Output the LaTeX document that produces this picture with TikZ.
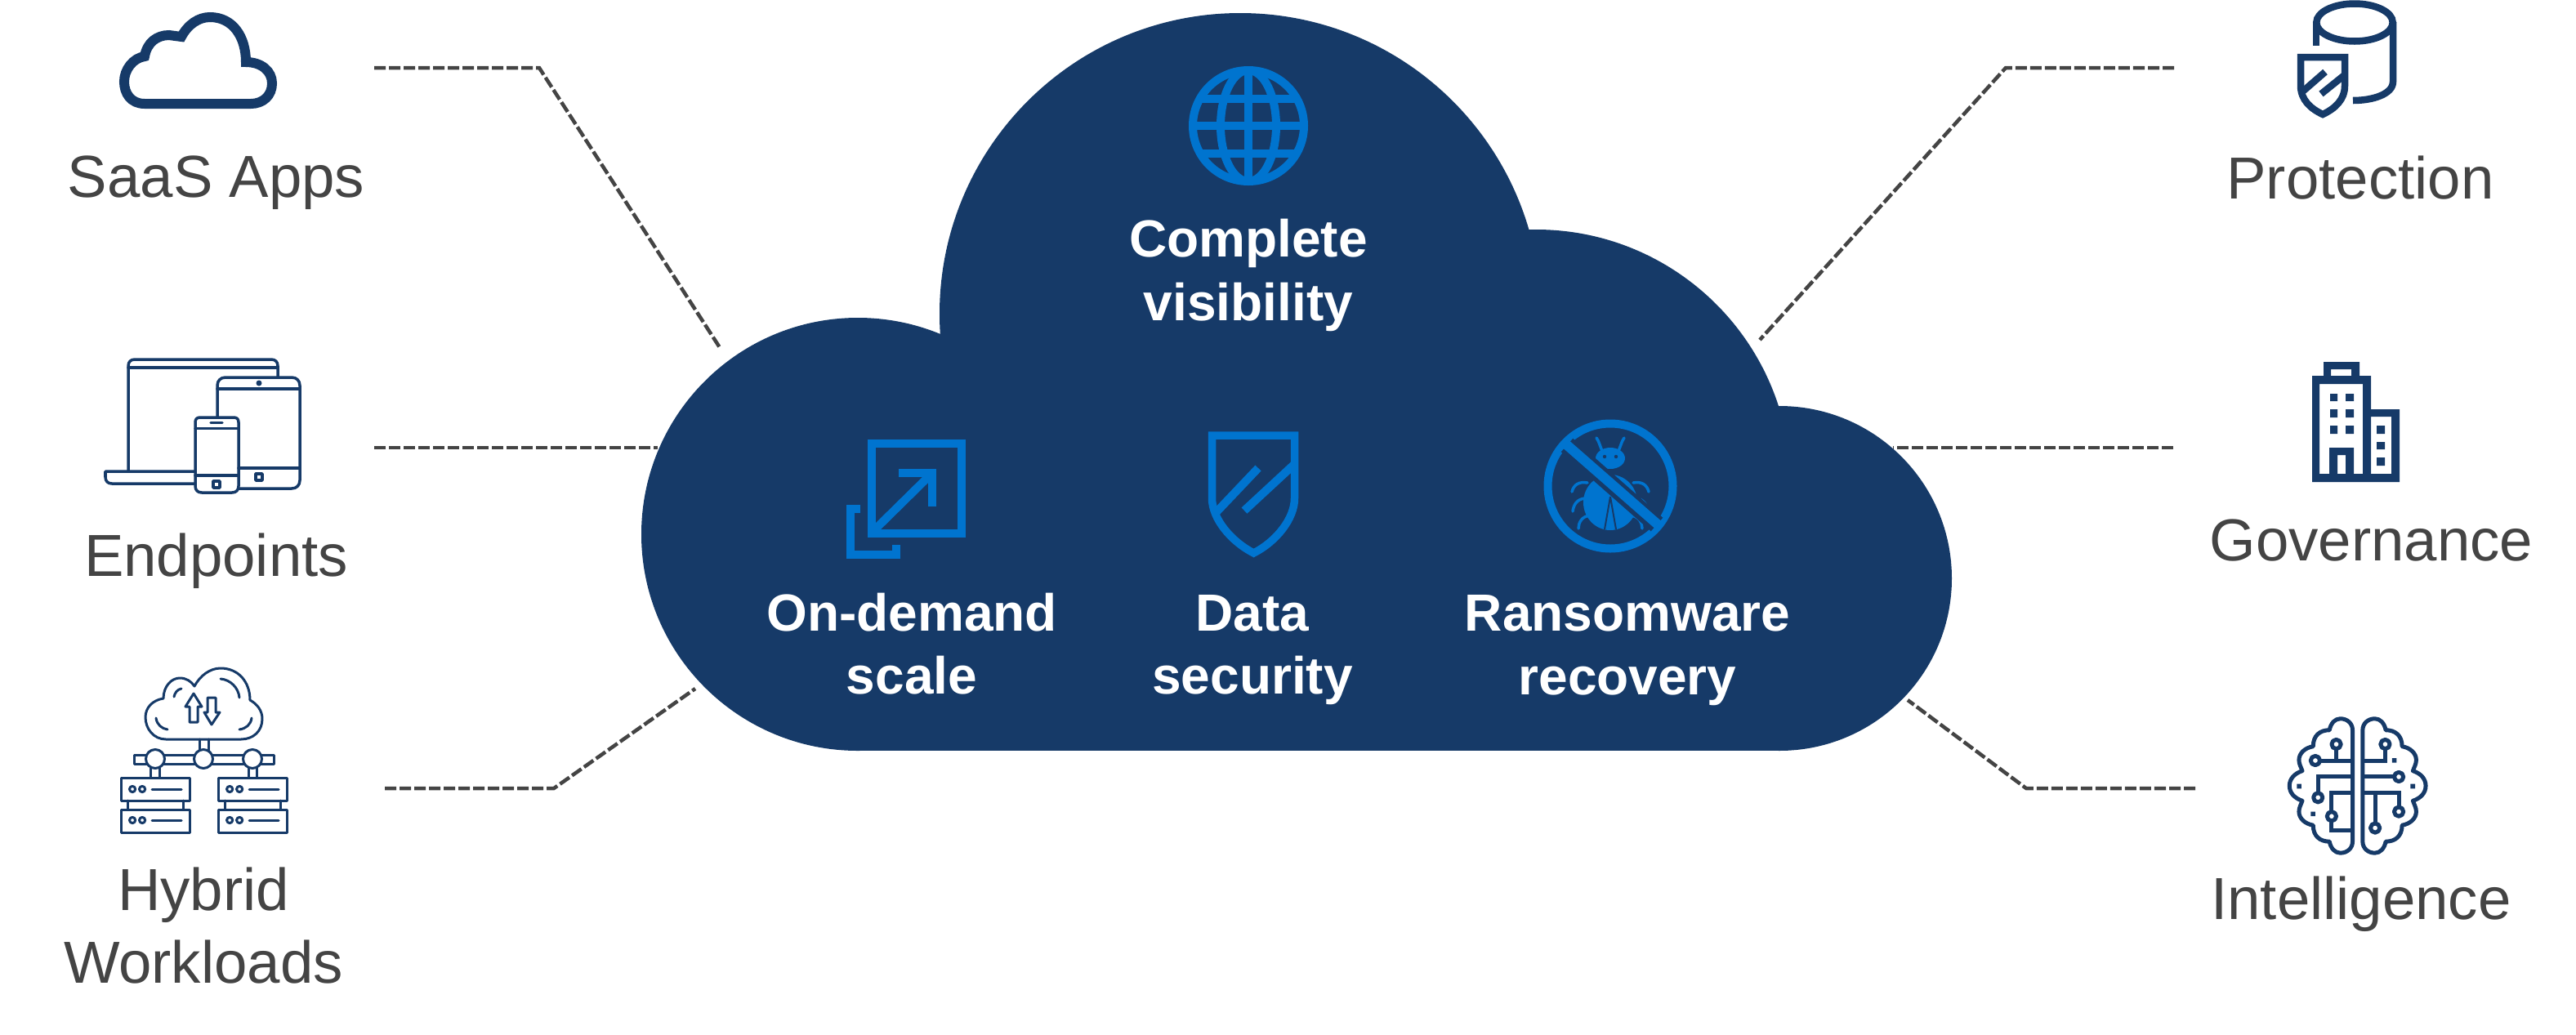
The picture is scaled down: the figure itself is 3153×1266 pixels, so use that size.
\documentclass[tikz,border=0pt]{standalone}
\usepackage{fontspec}
\setmainfont{Liberation Sans}
\definecolor{navy}{HTML}{163A68}
\definecolor{azure}{HTML}{0074CF}
\definecolor{label}{HTML}{444444}
\tikzset{
  labeltext/.style={text=label,font=\fontsize{20.65pt}{25.04pt}\selectfont,align=center,anchor=base,inner sep=0pt},
  cloudtext/.style={text=white,font=\bfseries\fontsize{18.2pt}{21.9pt}\selectfont,align=center,anchor=base,inner sep=0pt},
  linkline/.style={draw=label,line width=0.045cm,dash pattern=on 0.14cm off 0.04cm},
  azureline/.style={draw=azure,line width=0.1cm},
  thin icon/.style={draw=navy,line width=0.035cm,line join=round,line cap=round},
  hybrid icon/.style={draw=navy,line width=0.03cm,line join=round,line cap=round},
  heavy icon/.style={draw=navy,line width=0.085cm},
  brain line/.style={draw=navy,line width=0.05cm,line join=round},
}
% One hemisphere outline, in its own local units
\newcommand\brainlobe{%
  \draw[brain line] (685,160) .. controls (685,135) and (665,118) .. (640,118)
    .. controls (620,118) and (605,135) .. (600,160)
    .. controls (565,160) and (540,180) .. (540,220)
    .. controls (510,225) and (488,245) .. (488,270)
    .. controls (488,285) and (495,295) .. (500,310)
    .. controls (470,320) and (453,340) .. (453,365)
    .. controls (453,390) and (470,410) .. (500,420)
    .. controls (495,435) and (488,445) .. (488,460)
    .. controls (488,485) and (510,505) .. (540,510)
    .. controls (540,550) and (565,570) .. (600,570)
    .. controls (605,595) and (620,612) .. (640,612)
    .. controls (665,612) and (685,595) .. (685,570) -- cycle;}
% A two-unit server stack with its left edge at x = 0
\newcommand\serverstack{%
  \draw[hybrid icon] (0,952) rectangle (84,980);
  \draw[hybrid icon] (0,991) rectangle (84,1019);
  \draw[hybrid icon] (8,980) -- (8,991) (76,980) -- (76,991);
  \foreach \yy in {966,1004}{
    \draw[hybrid icon] (14,\yy) circle[radius=3.6] (26,\yy) circle[radius=3.6];
    \draw[hybrid icon] (38,\yy) -- (74,\yy);
  }}
\begin{document}
\begin{tikzpicture}[x=0.01cm,y=-0.01cm]
\useasboundingbox (0,0) rectangle (3153,1266);

% Connector end points
\coordinate (saasA) at (458,83);
\coordinate (saasB) at (660,83);
\coordinate (saasC) at (882,427);
\coordinate (endA) at (458,548);
\coordinate (endB) at (805,548);
\coordinate (hybA) at (471,965);
\coordinate (hybB) at (678,965);
\coordinate (hybC) at (851,843);
\coordinate (protA) at (2661,83);
\coordinate (protB) at (2455,83);
\coordinate (protC) at (2154,416);
\coordinate (govA) at (2660,548);
\coordinate (govB) at (2317,548);
\coordinate (intA) at (2687,965);
\coordinate (intB) at (2480,965);
\coordinate (intC) at (2335,857);
\draw[linkline] (saasA) -- (saasB) -- (saasC);
\draw[linkline] (endA) -- (endB);
\draw[linkline] (hybA) -- (hybB) -- (hybC);
\draw[linkline] (protA) -- (protB) -- (protC);
\draw[linkline] (govA) -- (govB);
\draw[linkline] (intA) -- (intB) -- (intC);

% Central cloud: four overlapping lobes on a flat base
\fill[navy] (1050,654) circle[radius=265]
            (1518,384) circle[radius=368]
            (1880,593) circle[radius=312]
            (2178,708) circle[radius=211];
\fill[navy] (1050,650) rectangle (2178,919);

% Globe
\begin{scope}
  \clip (1528,154) circle[radius=70];
  \draw[azureline] (1528,154) ellipse[x radius=34,y radius=68];
  \draw[azureline] (1528,80) -- (1528,230);
  \draw[azureline] (1450,121) -- (1610,121) (1450,154) -- (1610,154) (1450,188) -- (1610,188);
\end{scope}
\draw[azureline] (1528,154) circle[radius=68];

% Scale icon
\draw[azureline] (1067,543) rectangle (1177,653);
\draw[azureline] (1053,623) -- (1040.5,623) -- (1040.5,679) -- (1097,679) -- (1097,667);
\draw[azureline] (1100,579) -- (1141,579) -- (1141,620);
\draw[azureline] (1136,584) -- (1069,650);

% Shield icon
\draw[azureline,line width=0.095cm] (1483.5,533) -- (1584.5,533) -- (1584.5,610)
  .. controls (1584.5,635) and (1562,663) .. (1534.5,677)
  .. controls (1507,663) and (1483.5,635) .. (1483.5,610) -- cycle;
\begin{scope}
  \clip (1483.5,533) -- (1584.5,533) -- (1584.5,610)
  .. controls (1584.5,635) and (1562,663) .. (1534.5,677)
  .. controls (1507,663) and (1483.5,635) .. (1483.5,610) -- cycle;
  \draw[azureline] (1484,632) -- (1540,573);
  \draw[azureline] (1590,563) -- (1523,625);
\end{scope}

% Crossed-out bug icon
\draw[azureline] (1971,595) circle[radius=76.5];
\fill[azure] (1971,561) ellipse[x radius=18,y radius=13];
\fill[azure] (1971,615) ellipse[x radius=33,y radius=34];
\fill[navy] (1964,559) circle[radius=2.2] (1978,559) circle[radius=2.2];
\draw[navy,line width=0.02cm] (1971,608) -- (1964,648) (1971,608) -- (1978,648);
\draw[azure,line width=0.035cm,line cap=round]
  (1961,552) .. controls (1958,545) and (1957,540) .. (1954,536)
  (1981,552) .. controls (1984,545) and (1985,540) .. (1988,536)
  (1943,591) .. controls (1932,589) and (1926,594) .. (1924,602)
  (1940,610) .. controls (1930,611) and (1926,618) .. (1925,626)
  (1946,631) .. controls (1936,632) and (1932,640) .. (1932,647)
  (1999,591) .. controls (2010,589) and (2016,594) .. (2018,602)
  (2002,610) .. controls (2012,611) and (2016,618) .. (2017,626)
  (1996,631) .. controls (2006,632) and (2010,640) .. (2010,647);
\draw[navy,line width=0.22cm] (1918,545) -- (2028,642);
\draw[azure,line width=0.12cm] (1917,544) -- (2029,642);

% Text inside the cloud
\node[cloudtext] (visibility) at (1528,392) {Complete\\visibility};
\node[cloudtext] (scale) at (1116,849) {On-demand\\scale};
\node[cloudtext] (security) at (1533,849) {Data\\security};
\node[cloudtext] (recovery) at (1992,850) {Ransomware\\recovery};

% SaaS cloud icon
\draw[navy,line width=0.12cm,line join=miter] (177,127) .. controls (160,127) and (152,114) .. (152,100)
  .. controls (152,85) and (163,71) .. (177,69)
  .. controls (180,52) and (192,43) .. (207,43) -- (222,45)
  .. controls (230,30) and (243,21) .. (257,21)
  .. controls (285,21) and (301,45) .. (301,76)
  .. controls (320,76) and (333,87) .. (333,102)
  .. controls (333,117) and (322,127) .. (307,127) -- cycle;
\node[labeltext] (saas) at (264.5,241) {SaaS Apps};

% Laptop, tablet and phone
\draw[thin icon] (157,577) -- (157,448) .. controls (157,443) and (160,440) .. (165,440)
  -- (332,440) .. controls (337,440) and (340,443) .. (340,448) -- (340,461);
\draw[thin icon] (157,450) -- (340,450);
\draw[thin icon] (238,577) -- (129,577) -- (129,584) .. controls (129,589) and (132,592) .. (137,592) -- (238,592);
\draw[thin icon] (266,510) -- (266,472) .. controls (266,466) and (270,462) .. (276,462)
  -- (357,462) .. controls (363,462) and (367,466) .. (367,472) -- (367,588)
  .. controls (367,594) and (363,598) .. (357,598) -- (292,598);
\draw[thin icon] (266,476) -- (367,476) (292,573) -- (367,573);
\fill[navy] (317,469) circle[radius=3.5];
\draw[thin icon] (313,580) rectangle (321,588);
\draw[thin icon] (245,511) -- (286,511) .. controls (290,511) and (292,513) .. (292,517)
  -- (292,595) .. controls (292,600) and (289,603) .. (284,603) -- (247,603)
  .. controls (242,603) and (239,600) .. (239,595) -- (239,517) .. controls (239,513) and (241,511) .. (245,511) -- cycle;
\draw[thin icon] (239,524.5) -- (292,524.5) (239,582) -- (292,582);
\draw[thin icon] (258,517.5) -- (272,517.5);
\draw[thin icon] (261,589) rectangle (269,597);
\node[labeltext] (endpoints) at (264.5,705) {Endpoints};

% Hybrid cloud with servers
\draw[hybrid icon] (203,905) .. controls (188,905) and (178,892) .. (178,878)
  .. controls (178,866) and (187,857) .. (200,855)
  .. controls (200,840) and (210,830) .. (220,830)
  .. controls (228,830) and (234,834) .. (238,840)
  .. controls (245,827) and (257,818) .. (270,818)
  .. controls (292,818) and (306,835) .. (306,857)
  .. controls (315,862) and (321,870) .. (321,880)
  .. controls (321,895) and (310,905) .. (295,905) -- cycle;
\draw[hybrid icon] (213,853) .. controls (214,848) and (217,844) .. (222,843)
  (270,831) .. controls (282,832) and (292,842) .. (293,854)
  (191,879) .. controls (192,887) and (198,892) .. (205,893)
  (293,893) .. controls (301,892) and (307,887) .. (308,879);
\draw[hybrid icon] (237,849) -- (247,865) -- (242,865) -- (242,884) -- (232,884) -- (232,865) -- (227,865) -- cycle;
\draw[hybrid icon] (259,887) -- (269,872) -- (264,872) -- (264,854) -- (254,854) -- (254,872) -- (250,872) -- cycle;
\draw[hybrid icon] (244,905) -- (244,924) (255,905) -- (255,924);
\draw[hybrid icon] (164,924) rectangle (335,935);
\draw[hybrid icon,fill=white] (190,929) circle[radius=11.5] (249,929) circle[radius=11.5] (309,929) circle[radius=11.5];
\draw[hybrid icon] (184,940) -- (184,952) (195,940) -- (195,952) (304,940) -- (304,952) (314,940) -- (314,952);
\begin{scope}[xshift=1.48cm]\serverstack\end{scope}
\begin{scope}[xshift=2.67cm]\serverstack\end{scope}
\node[labeltext] (hybrid) at (249,1203) {Hybrid\\Workloads};

% Database with shield
\draw[heavy icon] (2882,27.5) ellipse[x radius=46.7,y radius=23];
\draw[heavy icon] (2835,27) -- (2835,56);
\draw[heavy icon] (2929,27) -- (2929,100) .. controls (2929,115) and (2905,123) .. (2880,123);
\draw[heavy icon,line join=miter] (2816,70) -- (2870,70) -- (2870,105)
  .. controls (2870,122) and (2858,133) .. (2843,140)
  .. controls (2828,133) and (2816,122) .. (2816,105) -- cycle;
\begin{scope}
  \clip (2816,70) rectangle (2870,140);
  \draw[heavy icon] (2846,88) -- (2815,115);
  \draw[heavy icon] (2872,90) -- (2841,115);
\end{scope}
\node[labeltext] (protection) at (2889,243) {Protection};

% Office building
\fill[navy,even odd rule] (2844,443) -- (2888,443) -- (2888,460) -- (2902,460) -- (2902,501) -- (2937,501)
  -- (2937,590) -- (2830,590) -- (2830,460) -- (2844,460) -- cycle
  (2853,452) rectangle (2878,460)
  (2839,470) rectangle (2892,580)
  (2902,510) rectangle (2927,580);
\fill[navy] (2852,482) rectangle (2861,491) (2871,482) rectangle (2881,491)
  (2852,501) rectangle (2861,511) (2871,501) rectangle (2881,511)
  (2852,521) rectangle (2861,531) (2871,521) rectangle (2881,531)
  (2909,521) rectangle (2919,531) (2909,541) rectangle (2919,550) (2909,560) rectangle (2919,570);
\fill[navy,even odd rule] (2851,548) rectangle (2881,580) (2861,557) rectangle (2871,580);
\node[labeltext] (governance) at (2902.5,686) {Governance};

% Brain with circuit traces, in local units
\begin{scope}[shift={(26.5cm,-8.4cm)},x=0.003333cm,y=-0.003333cm]
  \brainlobe
  \draw[brain line] (685,272) -- (565,272) (625,229) -- (625,272);
  \draw[brain line,line join=miter] (685,332) -- (558,332) -- (558,391);
  \draw[brain line,line join=miter] (685,390) -- (608,390) -- (608,528) -- (685,528);
  \draw[brain line,fill=white] (548,272) circle[radius=17] (625,212) circle[radius=17]
    (558,408) circle[radius=17] (608,477) circle[radius=17];
  \fill[navy] (480,358) rectangle (497,375) (531,460) rectangle (548,477);
\end{scope}
\begin{scope}[shift={(31.18cm,-8.4cm)},x=-0.003333cm,y=-0.003333cm]
  \brainlobe
\end{scope}
\begin{scope}[shift={(26.5cm,-8.4cm)},x=0.003333cm,y=-0.003333cm]
  \draw[brain line,line join=miter] (720,272) -- (805,272) -- (805,229);
  \draw[brain line] (720,332) -- (838,332);
  \draw[brain line,line join=miter] (720,390) -- (855,390) -- (855,443);
  \draw[brain line] (768,390) -- (768,503);
  \draw[brain line,fill=white] (805,212) circle[radius=17] (855,332) circle[radius=17]
    (855,460) circle[radius=17] (768,520) circle[radius=17];
  \fill[navy] (830,263) rectangle (847,280) (898,358) rectangle (915,375);
\end{scope}
\node[labeltext] (intelligence) at (2890,1125) {Intelligence};
\end{tikzpicture}
\end{document}
